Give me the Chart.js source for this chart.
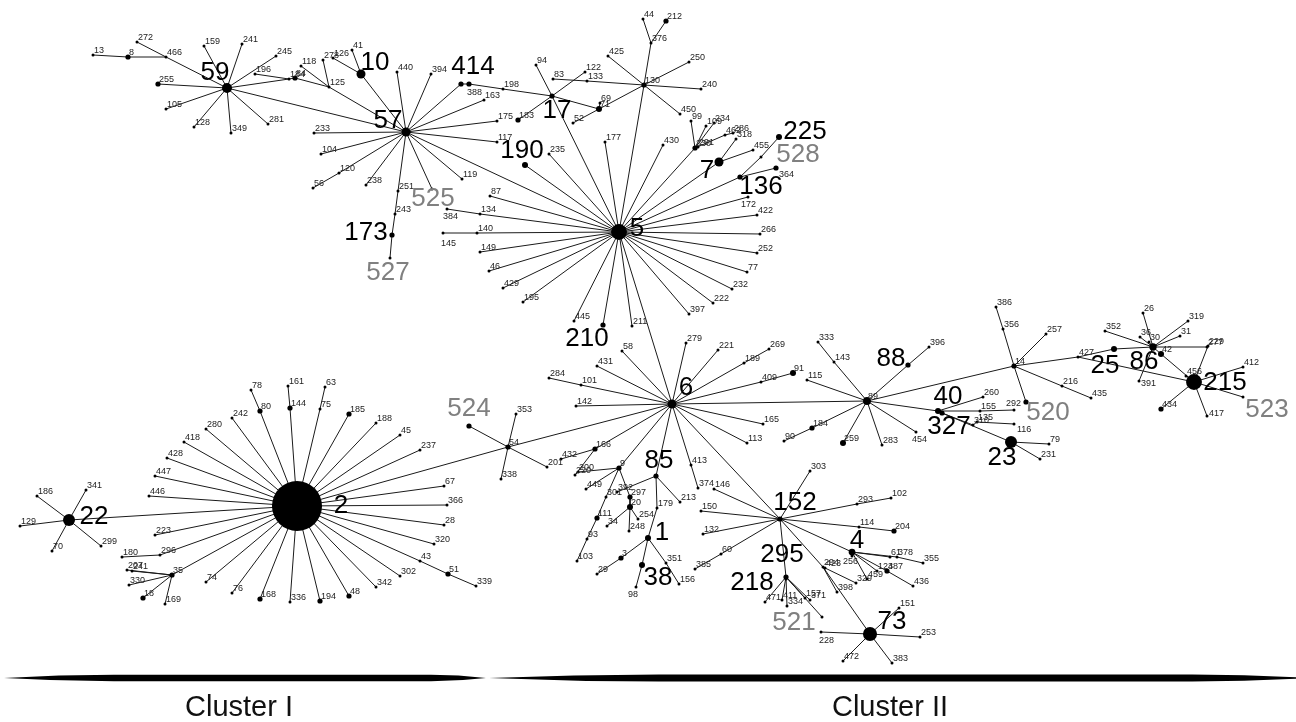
<!DOCTYPE html>
<html lang="en">
  <head>
    <meta charset="UTF-8" />
    <title>Minimum spanning tree – Cluster I / Cluster II</title>
    <style>
      body {
        margin: 0;
        background: #fff;
      }
      #wrap {
        width: 1296px;
        height: 722px;
      }
    </style>
  </head>
  <body>
    <div id="wrap"><canvas id="graph" width="1296" height="722"></canvas></div>

    <script src="https://cdn.jsdelivr.net/npm/chart.js"></script>
    <script>
      // every node: [type, layout x, layout y, isolates, linked to]
      const hub5 = [
        ["5", 619, 232, 28, null],
        ["190", 525, 165, 4, "5"],
        ["235", 549, 154, 1, "5"],
        ["177", 605, 142, 1, "5"],
        ["430", 663, 145, 1, "5"],
        ["87", 490, 196, 1, "5"],
        ["134", 480, 214, 1, "5"],
        ["384", 447, 209, 1, "134"],
        ["140", 477, 233, 1, "5"],
        ["145", 443, 233, 1, "140"],
        ["149", 480, 252, 1, "5"],
        ["46", 489, 271, 1, "5"],
        ["429", 503, 288, 1, "5"],
        ["195", 523, 302, 1, "5"],
        ["445", 574, 321, 1, "5"],
        ["210", 603, 325, 3, "5"],
        ["211", 632, 326, 1, "5"],
        ["172", 748, 197, 1, "5"],
        ["422", 757, 215, 1, "5"],
        ["266", 760, 234, 1, "5"],
        ["252", 757, 253, 1, "5"],
        ["77", 747, 272, 1, "5"],
        ["232", 732, 289, 1, "5"],
        ["222", 713, 303, 1, "5"],
        ["397", 689, 314, 1, "5"],
      ];

      const hub7 = [
        ["7", 719, 162, 9, "5"],
        ["318", 736, 139, 1, "7"],
        ["455", 753, 150, 1, "7"],
        ["136", 740, 177, 3, "5"],
        ["528", 761, 157, 1, "136"],
        ["225", 779, 137, 4, "528"],
        ["364", 776, 168, 3, "136"],
        ["230", 695, 148, 3, "5"],
        ["291", 698, 147, 1, "230"],
        ["99", 691, 121, 1, "230"],
        ["109", 706, 126, 1, "230"],
        ["234", 714, 123, 1, "230"],
        ["462", 725, 135, 1, "230"],
        ["286", 733, 133, 1, "462"],
      ];

      const hub17 = [
        ["17", 552, 96, 3, "5"],
        ["94", 536, 65, 1, "17"],
        ["122", 585, 72, 1, "17"],
        ["183", 518, 120, 3, "17"],
        ["71", 599, 109, 4, "17"],
        ["69", 600, 103, 1, "71"],
        ["52", 573, 123, 1, "71"],
        ["130", 644, 85, 3, "5"],
        ["133", 587, 81, 1, "130"],
        ["83", 553, 79, 1, "133"],
        ["425", 608, 56, 1, "130"],
        ["376", 651, 43, 1, "130"],
        ["44", 643, 19, 1, "376"],
        ["212", 666, 21, 3, "376"],
        ["250", 689, 62, 1, "130"],
        ["240", 701, 89, 1, "130"],
        ["450", 680, 114, 1, "130"],
      ];

      const hub57 = [
        ["57", 406, 132, 9, "5"],
        ["10", 361, 74, 9, "57"],
        ["41", 352, 50, 1, "10"],
        ["126", 333, 58, 1, "10"],
        ["125", 329, 87, 1, "57"],
        ["278", 323, 60, 1, "125"],
        ["118", 301, 66, 1, "125"],
        ["233", 314, 133, 1, "57"],
        ["104", 321, 154, 1, "57"],
        ["120", 339, 173, 1, "57"],
        ["56", 313, 188, 1, "120"],
        ["238", 366, 185, 1, "57"],
        ["251", 398, 191, 1, "57"],
        ["243", 395, 214, 1, "251"],
        ["173", 392, 235, 3, "243"],
        ["527", 390, 258, 1, "173"],
        ["525", 432, 189, 1, "57"],
        ["119", 462, 179, 1, "57"],
        ["117", 497, 142, 1, "57"],
        ["175", 497, 121, 1, "57"],
        ["163", 484, 100, 1, "57"],
        ["414", 461, 84, 3, "57"],
        ["388", 469, 84, 3, "414"],
        ["198", 503, 89, 1, "388"],
        ["440", 397, 72, 1, "57"],
        ["394", 431, 74, 1, "57"],
      ];

      const hub59 = [
        ["59", 227, 88, 11, "57"],
        ["184a", 289, 79, 1, "59"],
        ["84", 295, 78, 3, "184a"],
        ["196", 255, 74, 1, "184a"],
        ["245", 276, 56, 1, "59"],
        ["241", 242, 44, 1, "59"],
        ["159", 204, 46, 1, "59"],
        ["466", 166, 57, 1, "59"],
        ["272", 137, 42, 1, "466"],
        ["8", 128, 57, 3, "466"],
        ["13", 93, 55, 1, "8"],
        ["255", 158, 84, 3, "59"],
        ["105", 166, 109, 1, "59"],
        ["128", 194, 127, 1, "59"],
        ["349", 231, 133, 1, "59"],
        ["281", 268, 124, 1, "59"],
      ];

      const hub6 = [
        ["6", 672, 404, 9, "5"],
        ["58", 622, 351, 1, "6"],
        ["431", 597, 366, 1, "6"],
        ["101", 581, 385, 1, "6"],
        ["284", 549, 378, 1, "101"],
        ["142", 576, 406, 1, "6"],
        ["166", 595, 449, 3, "6"],
        ["432", 561, 459, 1, "166"],
        ["220", 575, 475, 1, "166"],
        ["9", 619, 468, 3, "6"],
        ["200", 578, 472, 1, "9"],
        ["449", 586, 489, 1, "9"],
        ["301", 606, 497, 1, "9"],
        ["111", 597, 518, 3, "301"],
        ["93", 587, 539, 1, "111"],
        ["103", 577, 561, 1, "93"],
        ["297", 630, 497, 3, "9"],
        ["20", 630, 507, 4, "297"],
        ["34", 607, 526, 1, "20"],
        ["248", 629, 531, 1, "20"],
        ["254", 638, 519, 1, "20"],
        ["85", 656, 476, 3, "6"],
        ["392", 617, 492, 1, "85"],
        ["213", 680, 502, 1, "85"],
        ["179", 657, 508, 1, "85"],
        ["1", 648, 538, 4, "179"],
        ["3", 621, 558, 3, "1"],
        ["29", 597, 574, 1, "3"],
        ["38", 642, 565, 4, "1"],
        ["98", 636, 587, 1, "38"],
        ["351", 666, 563, 1, "1"],
        ["156", 679, 584, 1, "351"],
        ["279", 686, 343, 1, "6"],
        ["221", 718, 350, 1, "6"],
        ["189", 744, 363, 1, "6"],
        ["269", 769, 349, 1, "189"],
        ["409", 761, 382, 1, "6"],
        ["91", 793, 373, 4, "409"],
        ["165", 763, 424, 1, "6"],
        ["113", 747, 443, 1, "6"],
        ["413", 691, 465, 1, "6"],
        ["374", 698, 488, 1, "413"],
        ["54", 508, 447, 3, "6"],
        ["524", 469, 426, 3, "54"],
        ["353", 516, 414, 1, "54"],
        ["338", 501, 479, 1, "54"],
        ["201", 547, 467, 1, "54"],
      ];

      const hub152 = [
        ["152", 780, 519, 3, "6"],
        ["146", 714, 489, 1, "152"],
        ["303", 810, 471, 1, "152"],
        ["293", 857, 504, 1, "152"],
        ["102", 891, 498, 1, "293"],
        ["150", 701, 511, 1, "152"],
        ["132", 703, 534, 1, "152"],
        ["60", 721, 554, 1, "152"],
        ["385", 695, 569, 1, "60"],
        ["114", 859, 527, 1, "152"],
        ["204", 894, 531, 3, "114"],
        ["4", 852, 552, 5, "152"],
        ["256", 852, 556, 1, "4"],
        ["61", 890, 557, 1, "4"],
        ["378", 897, 557, 1, "4"],
        ["355", 923, 563, 1, "378"],
        ["124", 877, 571, 1, "4"],
        ["387", 887, 571, 3, "4"],
        ["436", 913, 586, 1, "387"],
        ["459", 867, 579, 1, "4"],
        ["294", 823, 567, 1, "152"],
        ["423", 825, 568, 1, "294"],
        ["329", 856, 583, 1, "294"],
        ["398", 837, 592, 1, "294"],
        ["73", 870, 634, 22, "294"],
        ["151", 899, 608, 1, "73"],
        ["253", 920, 637, 1, "73"],
        ["383", 892, 663, 1, "73"],
        ["472", 843, 661, 1, "73"],
        ["228", 821, 632, 1, "73"],
        ["295", 786, 577, 3, "152"],
        ["218", 786, 579, 1, "295"],
        ["471", 765, 602, 1, "295"],
        ["411", 782, 600, 1, "295"],
        ["334", 787, 606, 1, "295"],
        ["157", 805, 598, 1, "295"],
        ["371", 810, 600, 1, "295"],
        ["521", 822, 617, 1, "295"],
      ];

      const hub89 = [
        ["89", 867, 401, 7, "6"],
        ["143", 834, 362, 1, "89"],
        ["333", 818, 342, 1, "143"],
        ["115", 807, 380, 1, "89"],
        ["88", 908, 365, 3, "89"],
        ["396", 929, 347, 1, "88"],
        ["184", 812, 428, 3, "89"],
        ["90", 784, 441, 1, "184"],
        ["259", 843, 443, 4, "89"],
        ["283", 882, 445, 1, "89"],
        ["454", 916, 432, 1, "89"],
        ["40", 938, 411, 4, "89"],
        ["327", 942, 413, 3, "40"],
        ["260", 983, 397, 1, "40"],
        ["155", 980, 411, 1, "40"],
        ["292", 1014, 410, 1, "155"],
        ["310", 973, 425, 1, "327"],
        ["135", 977, 422, 1, "310"],
        ["116", 1014, 424, 1, "135"],
        ["23", 1011, 442, 16, "327"],
        ["79", 1049, 444, 1, "23"],
        ["231", 1040, 459, 1, "23"],
      ];

      const hub215 = [
        ["14", 1014, 366, 3, "89"],
        ["356", 1003, 329, 1, "14"],
        ["386", 996, 307, 1, "356"],
        ["257", 1046, 334, 1, "14"],
        ["216", 1062, 386, 1, "14"],
        ["435", 1091, 398, 1, "216"],
        ["520", 1026, 402, 3, "14"],
        ["427", 1078, 357, 1, "14"],
        ["25", 1114, 349, 4, "427"],
        ["86", 1153, 347, 6, "25"],
        ["26", 1143, 313, 1, "86"],
        ["319", 1188, 321, 1, "86"],
        ["31", 1180, 336, 1, "86"],
        ["352", 1105, 331, 1, "86"],
        ["36", 1140, 337, 1, "86"],
        ["30", 1149, 342, 1, "86"],
        ["42", 1161, 354, 4, "86"],
        ["277", 1207, 347, 1, "86"],
        ["391", 1139, 381, 1, "86"],
        ["215", 1194, 382, 28, "42"],
        ["229", 1208, 346, 1, "215"],
        ["456", 1186, 376, 1, "215"],
        ["412", 1243, 367, 1, "215"],
        ["523", 1243, 397, 1, "215"],
        ["417", 1207, 416, 1, "215"],
        ["434", 1161, 409, 3, "215"],
      ];

      const hub2 = [
        ["2", 297, 506, 278, "54"],
        ["22", 69, 520, 16, "2"],
        ["186", 37, 496, 1, "22"],
        ["341", 86, 490, 1, "22"],
        ["129", 20, 526, 1, "22"],
        ["70", 52, 551, 1, "22"],
        ["299", 101, 546, 1, "22"],
        ["80", 260, 411, 3, "2"],
        ["78", 251, 390, 1, "80"],
        ["144", 290, 408, 3, "2"],
        ["161", 288, 386, 1, "144"],
        ["75", 320, 409, 1, "2"],
        ["63", 325, 387, 1, "75"],
        ["242", 232, 418, 1, "2"],
        ["280", 206, 429, 1, "2"],
        ["418", 184, 442, 1, "2"],
        ["428", 167, 458, 1, "2"],
        ["447", 155, 476, 1, "2"],
        ["446", 149, 496, 1, "2"],
        ["223", 155, 535, 1, "2"],
        ["296", 160, 555, 1, "2"],
        ["180", 122, 557, 1, "296"],
        ["35", 172, 575, 3, "2"],
        ["207", 127, 570, 1, "35"],
        ["241b", 132, 571, 1, "35"],
        ["330", 129, 585, 1, "35"],
        ["18", 143, 598, 3, "35"],
        ["169", 165, 604, 1, "35"],
        ["74", 206, 582, 1, "2"],
        ["76", 232, 593, 1, "2"],
        ["168", 260, 599, 3, "2"],
        ["336", 290, 602, 1, "2"],
        ["194", 320, 601, 3, "2"],
        ["48", 349, 596, 3, "2"],
        ["342", 376, 587, 1, "2"],
        ["302", 400, 576, 1, "2"],
        ["43", 420, 561, 1, "2"],
        ["51", 448, 574, 3, "43"],
        ["339", 476, 586, 1, "51"],
        ["320", 434, 544, 1, "2"],
        ["28", 444, 525, 1, "2"],
        ["366", 447, 505, 1, "2"],
        ["67", 444, 486, 1, "2"],
        ["237", 420, 450, 1, "2"],
        ["45", 400, 435, 1, "2"],
        ["188", 376, 423, 1, "2"],
        ["185", 349, 414, 3, "2"],
      ];

      // links drawn on top of the tree edges
      const extraLinks = [
        ["84", "125"],
        ["198", "17"],
        ["71", "130"],
        ["427", "215"],
        ["200", "220"],
      ];

      const bigTypes = ["59", "10", "57", "414", "17", "190", "173", "5", "7", "225", "136", "210", "2", "22", "6", "85", "1", "38", "152", "4", "295", "218", "73", "88", "40", "327", "23", "25", "86", "215"];
      const newTypes = ["525", "527", "528", "524", "521", "520", "523"];
      const clusterNames = ["Cluster I", "Cluster II"];

      // ---- build ----
      const nodes = [].concat(hub5, hub7, hub17, hub57, hub59, hub6, hub152, hub89, hub215, hub2);
      const byId = {};
      nodes.forEach((n) => (byId[n[0]] = n));
      const shown = (id) => id.replace(/[a-z]$/, "");

      const links = nodes.filter((n) => n[4]).map((n) => [n[4], n[0]]).concat(extraLinks);
      const edgeData = [];
      links.forEach(([a, b]) => {
        edgeData.push({ x: byId[a][1], y: byId[a][2] });
        edgeData.push({ x: byId[b][1], y: byId[b][2] });
        edgeData.push({ x: null, y: null });
      });

      // text position of the large labels, offset from node centre (px)
      const bigOffset = {
        59: [-12, -15], 10: [14, -11], 57: [-18, -11], 414: [12, -17], 17: [5, 15],
        190: [-3, -14], 525: [1, 10], 173: [-26, -2], 527: [-2, 15], 5: [18, -3],
        7: [-12, 9], 225: [26, -5], 528: [37, -2], 136: [21, 10], 210: [-16, 14],
        524: [0, -17], 2: [44, 0], 22: [25, -3], 6: [14, -16], 85: [3, -15],
        1: [14, -5], 38: [16, 13], 152: [15, -16], 4: [5, -11], 295: [-4, -22],
        218: [-34, 4], 521: [-28, 6], 73: [22, -12], 88: [-17, -6], 40: [10, -14],
        327: [7, 14], 520: [22, 11], 23: [-9, 16], 25: [-9, 17], 86: [-9, 15],
        215: [31, 1], 523: [24, 13],
      };
      const smallOffset = {
        388: [-2, 11], 145: [-2, 13], 384: [-4, 10], 172: [-7, 10], 228: [-2, 11],
        98: [-8, 10], 256: [-9, 8], 364: [3, 9], 391: [2, 5], 417: [2, 0],
        116: [3, 8], 292: [-8, -4], 454: [-4, 10],
      };

      const FONT = '"Liberation Sans", Arial, sans-serif';

      const labelPlugin = {
        id: "nodeLabels",
        afterDatasetsDraw(chart) {
          const ctx = chart.ctx;
          const xs = chart.scales.x;
          const ys = chart.scales.y;
          ctx.save();
          nodes.forEach((n) => {
            const id = shown(n[0]);
            const px = xs.getPixelForValue(n[1]);
            const py = ys.getPixelForValue(n[2]);
            const big = bigTypes.includes(n[0]);
            const isNew = newTypes.includes(n[0]);
            if (big || isNew) {
              const off = bigOffset[id] || [0, -16];
              ctx.font = "26px " + FONT;
              ctx.fillStyle = isNew ? "#808080" : "#000";
              ctx.textAlign = "center";
              ctx.textBaseline = "middle";
              ctx.fillText(id, px + off[0], py + off[1]);
            } else {
              const off = smallOffset[id] || [1, -2];
              ctx.font = "9px " + FONT;
              ctx.fillStyle = "#222";
              ctx.textAlign = "left";
              ctx.textBaseline = "alphabetic";
              ctx.fillText(id, px + off[0], py + off[1]);
            }
          });
          ctx.restore();
        },
      };

      // tapered bars + names of the two clusters
      const clusterPlugin = {
        id: "clusters",
        afterDraw(chart, args, opts) {
          const ctx = chart.ctx;
          const xs = chart.scales.x;
          const ys = chart.scales.y;
          ctx.save();
          opts.spans.forEach((s, i) => {
            const x0 = xs.getPixelForValue(s[0]);
            const x1 = xs.getPixelForValue(s[1]);
            const y = ys.getPixelForValue(opts.barY);
            const h = s[4];
            const t0 = s[2];
            const t1 = s[3];
            ctx.fillStyle = "#000";
            ctx.beginPath();
            ctx.moveTo(x0, y);
            ctx.quadraticCurveTo(x0 + t0 * 0.5, y - h, x0 + t0, y - h);
            ctx.lineTo(x1 - t1, y - h);
            ctx.quadraticCurveTo(x1 - t1 * 0.5, y - h, x1, y);
            ctx.quadraticCurveTo(x1 - t1 * 0.5, y + h, x1 - t1, y + h);
            ctx.lineTo(x0 + t0, y + h);
            ctx.quadraticCurveTo(x0 + t0 * 0.5, y + h, x0, y);
            ctx.fill();

            ctx.font = "29px " + FONT;
            ctx.fillStyle = "#111";
            ctx.textAlign = "center";
            ctx.textBaseline = "middle";
            ctx.fillText(clusterNames[i], xs.getPixelForValue(opts.textX[i]), ys.getPixelForValue(opts.textY));
          });
          ctx.restore();
        },
      };

      new Chart(document.querySelector("#graph").getContext("2d"), {
        type: "scatter",
        data: {
          datasets: [
            {
              label: "types",
              order: 0,
              data: nodes.map((n) => ({ x: n[1], y: n[2] })),
              pointRadius: nodes.map((n) => 1.5 * Math.sqrt(n[3])),
              pointBackgroundColor: "#000",
              pointBorderWidth: 0,
              pointHoverRadius: nodes.map((n) => 1.5 * Math.sqrt(n[3])),
              clip: false,
            },
            {
              label: "links",
              order: 1,
              data: edgeData,
              showLine: true,
              spanGaps: false,
              pointRadius: 0,
              pointHoverRadius: 0,
              borderColor: "#1a1a1a",
              borderWidth: 1,
            },
          ],
        },
        options: {
          responsive: false,
          animation: false,
          devicePixelRatio: 1,
          layout: { padding: 0, autoPadding: false },
          events: [],
          scales: {
            x: { type: "linear", min: 0, max: 1296, display: false },
            y: { type: "linear", min: 0, max: 722, reverse: true, display: false },
          },
          plugins: {
            legend: { display: false },
            tooltip: { enabled: false },
            clusters: {
              barY: 678,
              // [from, to, left taper, right taper, half thickness]
              spans: [
                [4, 486, 110, 55, 3.2],
                [489, 1312, 170, 120, 3.5],
              ],
              textX: [239, 890],
              textY: 708,
            },
          },
        },
        plugins: [labelPlugin, clusterPlugin],
      });
    </script>
  </body>
</html>
